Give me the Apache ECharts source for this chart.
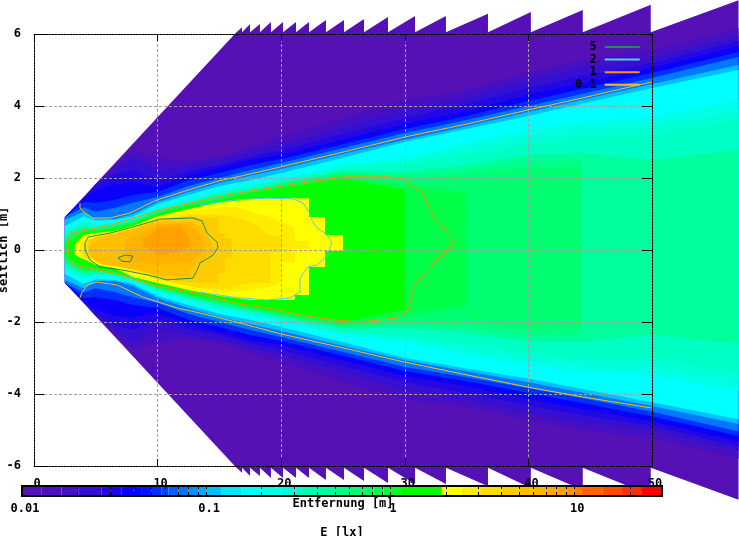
<!DOCTYPE html>
<html>
<head>
<meta charset="utf-8">
<style>html,body{margin:0;padding:0;background:#fff}#c{width:739px;height:536px}</style>
<script src="https://cdn.jsdelivr.net/npm/echarts@6/dist/echarts.min.js"></script>
</head>
<body>
<div id="c"></div>
<script>
// ---- palette: E [lx] lower edges and colours ----
const paletteEdges = [.01,.0128,.0164,.0202,.0271,.0301,.0348,.0403,.0448,.0507,.0574,.0624,.0707,.0801,.0908,.1009,.1217,.1563,.2008,.2577,.3046,.3311,.4027,.5046,.6063,.7109,.8117,.9204,1.009,1.158,1.91,2.453,3.085,4.05,4.98,6.01,6.96,8.05,9.06,10.1,11,14.2,18.2,23.3,30];
const paletteColors = ['#5511b6','#4f10bb','#4610c2','#3610d2','#2408e4','#1804ee','#0a00fa','#0008ff','#0018ff','#0030ff','#0048ff','#0060ff','#0078ff','#0090ff','#00a8ff','#00c0ff','#00e4ff','#00ffff','#00ffe4','#00ffd4','#00ffc4','#00ffb4','#00ff9c','#00ff84','#00ff70','#00ff5c','#00ff48','#00ff34','#00ff1c','#00ff00','#ffff00','#ffec00','#ffdc00','#ffcc00','#ffbe00','#ffb200','#ffaa00','#ffa200','#ff9400','#ff7c00','#ff6400','#ff4c00','#ff3000','#ff0000'];
const barTicks = [.02,.03,.04,.05,.06,.07,.08,.09,.1,.2,.3,.4,.5,.6,.7,.8,.9,1,2,3,4,5,6,7,8,9,10,20];

// ---- lit region: outer edge of the fan, upper side [distance, lateral] ----
const fanEdge = [[2.5,.92],[16.3,6.02],[16.83,6.19],[16.83,6.05],[17.48,6.28],[17.48,6.05],[18.28,6.28],[18.28,6.05],[19.17,6.33],[19.17,6.05],[20.15,6.33],[20.15,6.05],[21.2,6.33],[21.2,6.05],[22.25,6.33],[22.25,6.05],[23.62,6.39],[23.62,6.05],[25.08,6.39],[25.08,6.05],[26.7,6.42],[26.7,6.05],[28.64,6.47],[28.64,6.05],[30.83,6.5],[30.83,6.05],[33.33,6.5],[33.33,6.05],[36.73,6.56],[36.73,6.05],[40.2,6.61],[40.2,6.05],[44.4,6.67],[44.4,6.05],[49.9,6.81],[49.9,6.05],[57,6.94]];

// ---- iso-bands: lateral half-width of each E level at these distances ----
const bandDistances = [2.5,4,5,6.5,8,10,12.5,15,17.5,20,25,30,35,40,44.3,50,57];
const lowerSideRatio = [1,1,1,1,1,1,1,1,1,1,1,1,.98,.96,.95,.94,.94];
const band017 = [.92,1.44,1.83,2.36,2.78,2.58,2.47,2.58,2.86,3.14,3.67,4.17,4.44,4.94,5.28,5.56,6.17];
const band022 = [.92,1.44,1.83,2.22,2.58,2.22,2.36,2.5,2.72,2.92,3.39,3.89,4.25,4.72,5.06,5.33,5.94];
const band030 = [.92,1.44,1.81,2.08,2.22,1.94,2.19,2.36,2.58,2.78,3.22,3.67,4.06,4.5,4.83,5.19,5.81];
const band040 = [.92,1.44,1.67,1.81,1.89,1.75,2.06,2.28,2.5,2.64,3.06,3.5,3.86,4.31,4.64,5.06,5.67];
const band055 = [.92,1.33,1.31,1.39,1.53,1.61,1.94,2.14,2.36,2.53,2.94,3.36,3.72,4.14,4.47,4.92,5.5];
const band080 = [.92,1.19,1.06,1.17,1.31,1.47,1.78,2,2.22,2.42,2.83,3.25,3.61,4,4.33,4.78,5.36];
const band105 = [.83,1.06,.86,.86,1,1.33,1.61,1.86,2.06,2.25,2.67,3.06,3.44,3.83,4.17,4.61,5.14];
const band160 = [.67,.94,.81,.83,.94,1.28,1.53,1.78,1.94,2.14,2.56,3,3.36,3.72,4.06,4.5,5];
const band220 = [.56,.81,.72,.78,.89,1.17,1.42,1.64,1.81,1.97,2.36,2.56,2.97,3.33,3.55,3.69,4.17];
const band260 = [.52,.77,.7,.75,.87,1.14,1.39,1.61,1.78,1.95,2.32,2.46,2.8,3.15,3.35,3.44,3.89];
const band310 = [.47,.72,.67,.72,.85,1.11,1.36,1.58,1.75,1.92,2.28,2.36,2.64,2.97,3.15,3.19,3.61];
const band420 = [.39,.67,.61,.69,.81,1.08,1.32,1.53,1.69,1.86,2.19,2.17,2.36,2.64,2.7,2.5,2.78];
const band510 = [.36,.64,.6,.68,.8,1.07,1.3,1.5,1.66,1.85,2.17,2.08,2.22,2.46,2.5,null,null];
const band620 = [.33,.61,.58,.67,.78,1.06,1.28,1.47,1.64,1.83,2.14,2,2.08,2.28,2.28,null,null];
const band830 = [.25,.56,.56,.64,.76,1.03,1.25,1.44,1.61,1.78,2.08,1.81,1.58,null,null,null,null];
const band1200 = [.14,.5,.53,.61,.75,1,1.22,1.39,1.58,1.72,2,1.67,null,null,null,null,null];
const outerBands = [[.017,band017],[.022,band022],[.03,band030],[.04,band040],[.055,band055],[.08,band080],[.105,band105],[.16,band160],[.22,band220],[.26,band260],[.31,band310],[.42,band420],[.51,band510],[.62,band620],[.83,band830],[1.2,band1200]];

// ---- core outlines above 2 lx [distance, lateral] ----
const core20 = [[3.3,.14],[4,.42],[5,.47],[6.5,.53],[8,.67],[10,.94],[12.5,1.14],[15,1.31],[17.5,1.42],[19.1,1.44],[22.25,1.44],[22.25,.92],[23.55,.92],[23.55,.42],[25,.42],[25,-.03],[23.55,-.03],[23.55,-.47],[22.25,-.47],[22.25,-1.25],[21.1,-1.25],[21.1,-1.39],[17.5,-1.39],[15,-1.28],[12.5,-1.11],[10,-.92],[8,-.75],[6.5,-.5],[5,-.42],[4,-.25],[3.3,-.14]];
const core26 = [[3.72,.22],[5,.39],[6.5,.47],[8,.58],[10,.86],[12.5,1.06],[15,1.19],[16.3,1.19],[17.5,1.06],[19.1,.92],[20,.78],[21.1,.61],[21.1,.25],[22.25,.25],[22.25,.03],[21.1,.03],[21.1,-.33],[20,-.33],[20,-.92],[19.1,-1.03],[17.5,-1.11],[15,-1.17],[12.5,-1],[10,-.83],[8,-.61],[6.5,-.42],[5,-.33],[3.72,-.22]];
const core35 = [[4,.17],[5,.28],[6.5,.39],[8,.53],[10,.78],[12.5,.97],[15.45,.97],[17.5,.78],[19.1,.39],[20,.39],[20,-.06],[19.1,-.06],[19.1,-.92],[17.5,-.92],[15.45,-1.06],[13.43,-1.06],[11,-.89],[9.39,-.72],[8,-.5],[6.5,-.36],[5,-.28],[4,-.17]];
const core45 = [[4.37,.28],[5.34,.39],[6.47,.47],[8,.61],[10,.83],[12.6,.94],[13.43,.89],[14.9,.89],[14.9,.47],[15.45,.47],[15.45,.33],[16,.33],[16,-.22],[15.45,-.22],[15.45,-.64],[14.9,-.64],[14.9,-.92],[13.43,-.92],[11,-.83],[9.39,-.67],[8,-.5],[6.47,-.39],[5.34,-.33],[4.37,-.11]];
const core55 = [[4.53,.14],[5.34,.33],[8,.56],[9.39,.75],[12.6,.78],[13.43,.67],[14.24,.28],[14.64,0],[13.83,-.22],[12.6,-.56],[12.6,-.72],[10.6,-.72],[9,-.61],[6.96,-.47],[5.34,-.39],[4.53,-.17]];
const core65 = [[7.36,.28],[8.82,.5],[10.2,.72],[12.6,.72],[13.43,.42],[13.83,0],[12.6,-.33],[10.2,-.42],[7.77,-.33],[7.36,0]];
const core85 = [[8.82,.33],[9.39,.42],[10.2,.64],[11.8,.67],[12.3,.5],[12.6,.28],[12.6,.11],[11.8,-.06],[10.2,-.14],[9.39,0],[8.82,.14]];
const coreBands = [[2,core20],[2.6,core26],[3.5,core35],[4.5,core45],[5.5,core55],[6.5,core65],[8.5,core85]];

// ---- contour lines [distance, lateral]; a '-' pair breaks the line ----
const contour5 = [[4.13,.19],[4.37,.36],[6.15,.47],[8.01,.64],[10.19,.86],[12.86,.89],[13.59,.81],[14,.47],[14.81,.22],[14.89,.06],[14.48,-.14],[13.83,-.28],[13.43,-.36],[13.19,-.56],[12.86,-.78],[10.76,-.83],[9.14,-.69],[7.2,-.56],[5.34,-.47],[4.53,-.28],[4.13,0],[4.13,.19],['-','-'],[6.8,-.22],[7.36,-.14],[8.01,-.17],[8.17,-.22],[7.77,-.33],[7.12,-.31],[6.8,-.22]];
const contour2 = [[13.43,1.25],[16.1,1.39],[18.85,1.44],[20.95,1.42],[21.76,1.31],[22.25,1.06],[22.49,.83],[22.9,.61],[23.54,.47],[24.11,.22],[23.87,0],[23.54,-.22],[22.9,-.42],[22.17,-.47],[21.52,-.78],[21.52,-1.17],[20.71,-1.33],[18.85,-1.39],[16.1,-1.31],[13.43,-1.17]];
const contour1 = [[2.75,0],[2.75,.14],[2.75,.28],[3.07,.47],[6.15,.69],[10.19,1.11],[15.61,1.53],[20.71,1.81],[25,2.03],[28.8,2.03],[29.94,1.97],[31.47,1.58],[32.04,1.11],[32.6,.83],[33.82,.36],[33.82,.14],[33.25,-.06],[32.44,-.33],[30.83,-.97],[30.26,-1.67],[29.37,-1.89],[26.38,-2],[24.19,-1.94],[21.52,-1.81],[18.85,-1.61],[16.1,-1.47],[13.43,-1.22],[9.95,-1],[6.39,-.64],[3.32,-.42],[2.75,-.19],[2.75,0]];
const contour01 = [[3.72,1.31],[3.72,1.17],[4.13,1.03],[4.69,.89],[6.15,.89],[7.77,1.03],[9.95,1.39],[12.54,1.67],[14.97,1.92],[17.48,2.11],[19.98,2.31],[25,2.72],[30.02,3.14],[35.03,3.5],[39.97,3.89],[44.34,4.22],[50,4.67],['-','-'],[3.72,-1.33],[3.88,-1.17],[4.37,-.97],[5.1,-.89],[6.72,-.97],[8.82,-1.31],[11.57,-1.61],[13.43,-1.75],[16.67,-2.03],[19.98,-2.33],[25,-2.72],[29.94,-3.11],[35.03,-3.47],[39.97,-3.81],[44.34,-4.08],[50,-4.39]];

// ---- text ----
const xLabel = 'Entfernung [m]', yLabel = 'seitlich [m]', barLabel = 'E [lx]';

const FONT = {fontFamily:'DejaVu Sans Mono', fontWeight:'bold', fontSize:12, color:'#000'};
function colorFor(e){
  let i = 0;
  while (i < paletteColors.length-1 && e >= paletteEdges[i+1]) i++;
  return paletteColors[i];
}
// field outlines, painted from dim to bright
const shapes = [];
const fanOutline = fanEdge.concat(fanEdge.slice().reverse().map(p => [p[0], -p[1]]));
shapes.push({e:.01, ring:fanOutline});
outerBands.forEach(function(b){
  const top = [], bottom = [];
  b[1].forEach(function(y,i){
    if (y === null) return;
    top.push([bandDistances[i], y]);
    bottom.unshift([bandDistances[i], -y*lowerSideRatio[i]]);
  });
  shapes.push({e:b[0], ring:top.concat(bottom)});
});
coreBands.forEach(function(b){ shapes.push({e:b[0], ring:b[1]}); });

const frameLine = {show:true, onZero:false, lineStyle:{color:'#000', width:1, type:[2,1]}};
const gridLine = {show:true, lineStyle:{color:'#a0a0a0', width:1, type:[3,2]}};
function lineSeries(name, data, color){
  return {name:name, type:'line', data:data, xAxisIndex:0, yAxisIndex:0, symbol:'none', showSymbol:false,
          connectNulls:false, z:5, silent:true, animation:false, lineStyle:{color:color, width:1}, itemStyle:{color:color}};
}
const chart = echarts.init(document.getElementById('c'), null, {renderer:'canvas'});
chart.setOption({
  animation:false,
  backgroundColor:'#fff',
  grid:[
    {left:34, top:34, width:618, height:432, outerBoundsMode:'none', containLabel:false},
    {left:22, top:486, width:640, height:10, outerBoundsMode:'none', containLabel:false}
  ],
  legend:{
    orient:'vertical', left:570, top:36, itemWidth:35, itemHeight:13, itemGap:.6, align:'right', z:20,
    itemStyle:{opacity:0},
    selectedMode:false, data:['5','2','1','0.1'], textStyle:Object.assign({}, FONT, {padding:[0,3,0,0]})
  },
  xAxis:[
    {type:'value', gridIndex:0, position:'bottom', min:0, max:50, interval:10, z:3,
     name:xLabel, nameLocation:'middle', nameGap:32, nameMoveOverlap:false, nameTextStyle:FONT,
     axisLine:frameLine, axisTick:{inside:true, length:7, lineStyle:{color:'#000'}},
     axisLabel:Object.assign({margin:12, padding:[0,0,0,6]}, FONT), splitLine:gridLine},
    {type:'value', gridIndex:0, position:'top', min:0, max:50, interval:10, z:3,
     axisLine:frameLine, axisTick:{inside:true, length:7, lineStyle:{color:'#000'}},
     axisLabel:{show:false}, splitLine:{show:false}},
    {type:'log', gridIndex:1, position:'bottom', logBase:10, min:.01, max:30, z:21,
     name:barLabel, nameLocation:'middle', nameGap:31, nameMoveOverlap:false, nameTextStyle:FONT,
     axisLine:{show:false}, axisTick:{show:false}, splitLine:{show:false}, minorTick:{show:false},
     axisLabel:Object.assign({margin:7, padding:[0,0,0,6], showMaxLabel:false,
       formatter:function(v){ return String(+(+v).toPrecision(2)); }}, FONT)}
  ],
  yAxis:[
    {type:'value', gridIndex:0, position:'left', min:-6, max:6, interval:2, z:3,
     name:yLabel, nameLocation:'middle', nameGap:24, nameMoveOverlap:false, nameRotate:90, nameTextStyle:FONT,
     axisLine:frameLine, axisTick:{inside:true, length:10, lineStyle:{color:'#000'}},
     axisLabel:Object.assign({margin:13}, FONT), splitLine:gridLine},
    {type:'value', gridIndex:0, position:'right', min:-6, max:6, interval:2, z:3,
     axisLine:frameLine, axisTick:{inside:true, length:10, lineStyle:{color:'#000'}},
     axisLabel:{show:false}, splitLine:{show:false}},
    {type:'value', gridIndex:1, min:0, max:1, show:false}
  ],
  series:[
    {name:'E field', type:'custom', xAxisIndex:0, yAxisIndex:0, clip:false, z:1, silent:true, animation:false,
     data:shapes.map(function(s,i){ return [i]; }),
     encode:{x:[], y:[]},
     renderItem:function(params, api){
       const s = shapes[params.dataIndex];
       return {type:'polygon', shape:{points:s.ring.map(function(p){ return api.coord(p); })},
               style:{fill:colorFor(s.e), stroke:null}};
     }},
    lineSeries('5', contour5, '#1f8a5e'),
    lineSeries('2', contour2, '#55ccee'),
    lineSeries('1', contour1, '#ff9400'),
    lineSeries('0.1', contour01, '#ffb820'),
    {name:'bar', type:'custom', xAxisIndex:2, yAxisIndex:2, clip:false, z:10, silent:true, animation:false,
     data:paletteColors.map(function(c,i){ return [i]; }),
     encode:{x:[], y:[]},
     renderItem:function(params, api){
       const i = params.dataIndex;
       const a = api.coord([paletteEdges[i], 1]), b = api.coord([paletteEdges[i+1], 0]);
       return {type:'rect', shape:{x:a[0], y:a[1], width:b[0]-a[0], height:b[1]-a[1]},
               style:{fill:paletteColors[i], stroke:null}};
     }},
    {name:'bar ticks', type:'custom', xAxisIndex:2, yAxisIndex:2, clip:false, z:11, silent:true, animation:false,
     data:barTicks.map(function(t){ return [t]; }),
     encode:{x:[], y:[]},
     renderItem:function(params, api){
       const t = barTicks[params.dataIndex];
       const a = api.coord([t, 1]), b = api.coord([t, 0]);
       return {type:'line', shape:{x1:Math.round(a[0])+.5, y1:a[1], x2:Math.round(a[0])+.5, y2:b[1]},
               style:{stroke:'#000', lineWidth:1, lineDash:[3,3], fill:null}};
     }},
    {name:'bar frame', type:'custom', xAxisIndex:2, yAxisIndex:2, clip:false, z:12, silent:true, animation:false,
     data:[[0]], encode:{x:[], y:[]},
     renderItem:function(params, api){
       const a = api.coord([.01, 1]), b = api.coord([30, 0]);
       return {type:'rect', shape:{x:a[0], y:a[1], width:b[0]-a[0], height:b[1]-a[1]},
               style:{fill:null, stroke:'#000', lineWidth:2}};
     }}
  ]
});
</script>
</body>
</html>
